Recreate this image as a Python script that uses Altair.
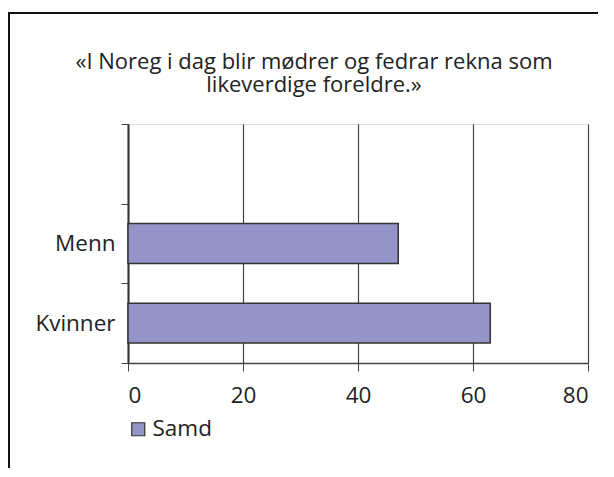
import altair as alt
import pandas as pd

categories = ["Menn", "Kvinner"]
values = [47, 63]
series = ["Samd", "Samd"]
y_domain = [" ", "Menn", "Kvinner"]
x_ticks = [0, 20, 40, 60, 80]
title_lines = ["«I Noreg i dag blir mødrer og fedrar rekna som", "likeverdige foreldre.»"]
title_rows = [0, 1]

df = pd.DataFrame({"kat": categories, "verdi": values, "serie": series})

FONT = "Open Sans"
FS = 22.5
W, H = 460, 239

bars = alt.Chart(df).mark_bar(
    height=alt.RelativeBandSize(0.5), stroke="#333333", strokeWidth=1.5
).encode(
    x=alt.X("verdi:Q", scale=alt.Scale(domain=[0, 80], nice=False),
            axis=alt.Axis(values=x_ticks, title=None, grid=True, gridColor="#444444",
                          gridWidth=1.2, tickColor="#444444", tickSize=8, domainColor="#444444",
                          domainWidth=1.5, labelFontSize=FS, labelPadding=13, labelColor="#222222",
                          labelFont=FONT)),
    y=alt.Y("kat:N", scale=alt.Scale(domain=y_domain, paddingInner=0, paddingOuter=0),
            axis=alt.Axis(title=None, tickBand="extent", tickColor="#444444", tickSize=7,
                          domainColor="#333333", domainWidth=2, labelFontSize=FS,
                          labelPadding=6, labelColor="#222222", labelFont=FONT, grid=False)),
    color=alt.Color("serie:N", scale=alt.Scale(range=["#9494C8"]),
                    legend=alt.Legend(title=None, orient="none", legendX=-1, legendY=294,
                                      symbolType="square", symbolSize=170,
                                      symbolStrokeColor="#333333", symbolStrokeWidth=1.2,
                                      labelFontSize=FS, labelFont=FONT, labelColor="#222222",
                                      labelOffset=3)),
)

frame = alt.Chart(pd.DataFrame({"a": [0]})).mark_rect(
    fill=None, stroke="#111111", strokeWidth=2
).encode(
    x=alt.value(-119), x2=alt.value(W + 200), y=alt.value(-111), y2=alt.value(H + 300)
)

title_df = pd.DataFrame({"line": title_lines, "row": title_rows})
title = alt.Chart(title_df).mark_text(
    font=FONT, fontSize=22, color="#222222", align="center", baseline="alphabetic"
).encode(
    text="line:N",
    x=alt.value(186),
    y=alt.Y("row:Q", scale=alt.Scale(domain=[0, 1], range=[-55, -32]), axis=None),
)

chart = alt.layer(frame, bars, title).resolve_scale(y="independent").properties(
    width=W, height=H,
    autosize=alt.AutoSizeParams(type="none"),
    padding={"left": 120, "top": 116, "right": 10, "bottom": 105},
).configure_view(stroke="#444444", strokeWidth=1.2).configure(background="white")

chart.save("out.html", embed_options={"renderer": "svg", "actions": False})
